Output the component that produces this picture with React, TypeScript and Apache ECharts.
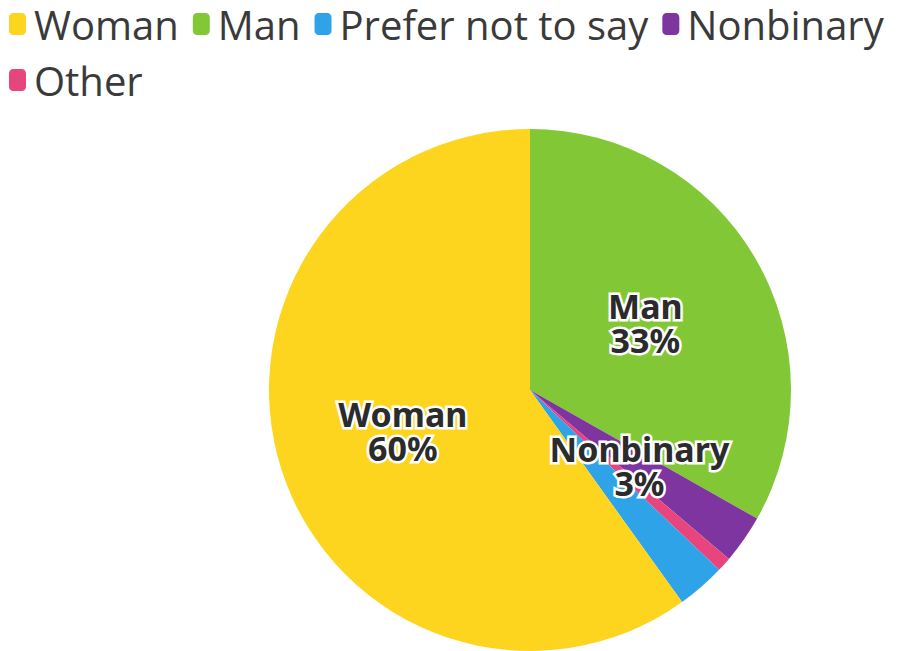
import React, { useEffect, useRef } from "react";
import * as echarts from "echarts";

const categories = ["Man", "Nonbinary", "Other", "Prefer not to say", "Woman"];
const values = [33.2, 3.0, 0.9, 3.0, 59.9];
const legendOrder = ["Woman", "Man", "Prefer not to say", "Nonbinary", "Other"];
const colorMap: Record<string, string> = {
  Woman: "#FDD51E",
  Man: "#82C836",
  "Prefer not to say": "#2EA3E8",
  Nonbinary: "#7E35A0",
  Other: "#E8457E",
};
const labeled = ["Woman", "Man", "Nonbinary"];

export default function App() {
  const ref = useRef<HTMLDivElement>(null);
  useEffect(() => {
    if (!ref.current) return;
    const chart = echarts.init(ref.current, null, { renderer: "svg" });
    chart.setOption({
      animation: false,
      legend: {
        data: legendOrder,
        left: 4,
        top: 0,
        padding: [3, 5, 5, 5],
        width: 897,
        itemWidth: 17,
        itemHeight: 22,
        itemGap: 14,
        icon: "roundRect",
        textStyle: {
          fontFamily: "Open Sans",
          fontSize: 40,
          lineHeight: 42,
          color: "#3a3a3a",
          padding: [0, 0, 0, 3],
        },
      },
      series: [
        {
          type: "pie",
          center: [530, 390],
          radius: 261,
          startAngle: 90,
          clockwise: true,
          avoidLabelOverlap: false,
          data: categories.map((c, i) => ({
            name: c,
            value: values[i],
            itemStyle: { color: colorMap[c] },
            label: { show: labeled.includes(c) },
          })),
          label: {
            position: "inside",
            formatter: (p: any) => `${p.name}\n${Math.round(p.percent)}%`,
            fontFamily: "Noto Sans",
            fontWeight: "bold",
            fontSize: 34,
            lineHeight: 34,
            color: "#2b2b2b",
            textBorderColor: "#ffffff",
            textBorderWidth: 5,
          },
          labelLine: { show: false },
          emphasis: { disabled: true },
        },
      ],
    });
    return () => chart.dispose();
  }, []);
  return (
    <div
      ref={ref}
      style={{ position: "fixed", left: 0, top: 0, width: 901, height: 651, background: "#fff" }}
    />
  );
}
